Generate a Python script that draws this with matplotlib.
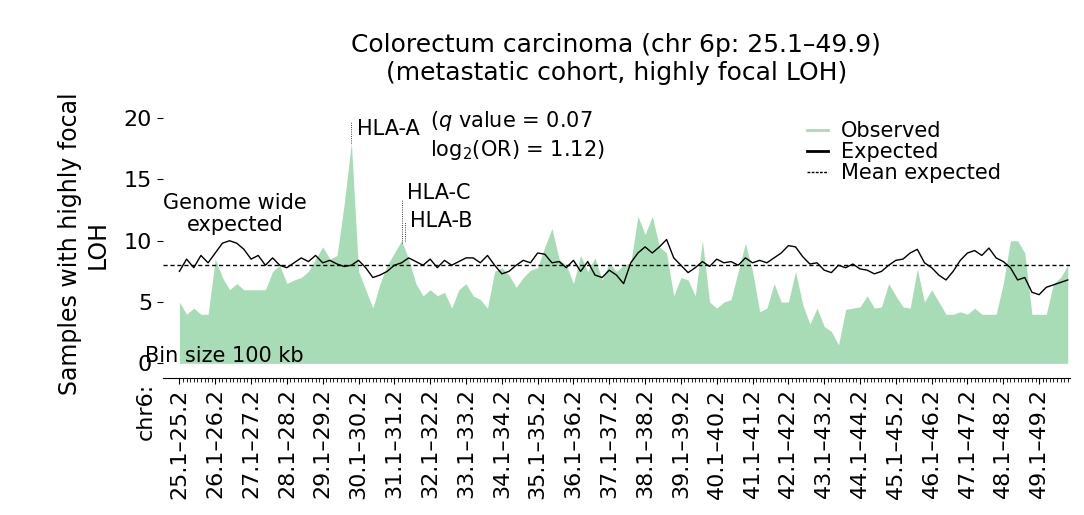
import numpy as np
import matplotlib.pyplot as plt
from matplotlib.lines import Line2D

observed = [5, 4, 4.5, 4, 4, 8.5, 7, 6, 6.5, 6, 6, 6, 6, 7.5, 8, 6.5, 6.8, 7.0, 7.5, 8.5,
            9.5, 8.5, 8.8, 13, 18, 7.5, 6, 4.5, 6.5, 8, 9, 10, 8.5, 6.5, 5.5, 6, 5.5, 5.8, 4.5, 6,
            6.5, 5.5, 5.2, 4.5, 7.5, 7.8, 7.2, 6.2, 7.0, 7.6, 7.8, 9.5, 11, 8.5, 8.0, 6.5, 8.8, 7.5, 8.6, 6.8,
            8.2, 7.5, 8.0, 8.2, 12, 10.5, 12, 9.5, 9.0, 5.5, 7.0, 6.8, 5.5, 10, 5, 4.5, 5.0, 5.2, 7.5, 9.8,
            7.5, 4.2, 4.5, 6.5, 5.0, 5.0, 7.5, 4.8, 3.2, 4.5, 3.0, 2.6, 1.5, 4.4, 4.5, 4.6, 5.5, 4.5, 4.6, 6.5,
            5.5, 4.6, 4.5, 7.7, 5.0, 6.0, 5.0, 4.0, 4.0, 4.2, 4.0, 4.5, 4.0, 4.0, 4.0, 6.5, 10, 10, 9, 4,
            4, 4, 6.5, 7.0, 8.0]
expected = [7.5, 8.5, 7.8, 8.8, 8.2, 9.0, 9.8, 10.0, 9.8, 9.3, 8.5, 8.8, 8.0, 8.6, 8.0, 7.8, 8.2, 8.6, 8.3, 8.8,
            8.2, 8.4, 8.1, 7.9, 8.0, 8.4, 7.8, 7.0, 7.2, 7.5, 8.0, 8.2, 8.6, 8.3, 8.0, 8.5, 7.8, 8.4, 8.0, 8.3,
            8.6, 8.6, 8.2, 8.8, 8.0, 7.3, 7.5, 8.0, 8.4, 8.2, 9.0, 8.9, 8.2, 8.3, 7.8, 8.4, 7.5, 8.3, 7.2, 7.0,
            7.6, 7.2, 6.5, 8.2, 9.0, 9.5, 9.0, 9.5, 10.1, 8.6, 8.0, 7.4, 7.8, 8.3, 7.9, 8.5, 8.2, 8.3, 8.0, 8.6,
            8.2, 8.4, 8.2, 8.6, 9.0, 9.6, 9.5, 8.7, 8.1, 8.2, 7.6, 7.4, 8.0, 7.8, 8.1, 7.7, 7.6, 7.3, 7.5, 8.0,
            8.4, 8.5, 9.0, 9.3, 8.2, 7.8, 7.2, 6.8, 7.5, 8.4, 9.0, 9.2, 8.8, 9.4, 8.6, 8.3, 7.8, 6.8, 7.0, 5.8,
            5.6, 6.2, 6.4, 6.6, 6.8][:len(observed)]
mean_expected = 8.0
tick_starts = [25.1 + i for i in range(25)]
tick_labels = [f"{s:.1f}\u2013{s + 0.1:.1f}" for s in tick_starts]

pos = 25.1 + 0.2 * np.arange(len(observed))
green = '#a8dcb6'

fig = plt.figure(figsize=(10.84, 5.15), dpi=100)
ax = fig.add_axes([0.150, 0.266, 0.837, 0.520])
ax.fill_between(pos, observed, 0, color=green, lw=0)
ax.plot(pos, expected, color='black', lw=1)
ax.axhline(mean_expected, color='black', lw=1, ls=(0, (3, 2)))

ax.set_xlim(24.63, 49.96)
ax.set_ylim(-1.2, 20.65)
for s in ['top', 'right', 'left']:
    ax.spines[s].set_visible(False)
ax.set_yticks([0, 5, 10, 15, 20])
ax.tick_params(axis='y', labelsize=16, length=4)
ax.set_xticks(tick_starts)
ax.set_xticklabels(tick_labels, rotation=90, fontsize=16)
ax.set_xticks(np.arange(25.1, 49.95, 0.1), minor=True)
ax.tick_params(axis='x', which='major', length=4)
ax.tick_params(axis='x', which='minor', length=3)
ax.text(24.15, -1.6, 'chr6:', rotation=90, ha='center', va='top', fontsize=16)
ax.set_ylabel('Samples with highly focal\nLOH', fontsize=17, labelpad=10)
ax.set_title('Colorectum carcinoma (chr 6p: 25.1\u201349.9)\n(metastatic cohort, highly focal LOH)',
             fontsize=18, pad=22)

ax.plot([29.9, 29.9], [18, 19.8], color='black', lw=0.6, ls=':')
ax.text(30.05, 19.1, 'HLA-A', fontsize=15, va='center')
ax.text(32.1, 19.8, '($q$ value = 0.07', fontsize=15, va='center')
ax.text(32.1, 17.4, 'log$_2$(OR) = 1.12)', fontsize=15, va='center')
ax.plot([31.3, 31.3], [9.8, 13.3], color='black', lw=0.6, ls=':')
ax.plot([31.4, 31.4], [10, 11.5], color='black', lw=0.6, ls=':')
ax.text(31.45, 13.9, 'HLA-C', fontsize=15, va='center')
ax.text(31.55, 11.6, 'HLA-B', fontsize=15, va='center')
ax.text(26.66, 12.2, 'Genome wide\nexpected', fontsize=15, ha='center', va='center',
        linespacing=1.15)
ax.text(24.15, 0.6, 'Bin size 100 kb', fontsize=15, va='center')
handles = [Line2D([], [], color=green, lw=2), Line2D([], [], color='black', lw=2),
           Line2D([], [], color='black', lw=1, ls=(0, (2, 1)))]
ax.legend(handles, ['Observed', 'Expected', 'Mean expected'], loc='upper left',
          bbox_to_anchor=(0.69, 1.03), frameon=False, fontsize=15,
          handlelength=1.0, labelspacing=0.05, handletextpad=0.6)

fig.savefig('out.png', dpi=100)
